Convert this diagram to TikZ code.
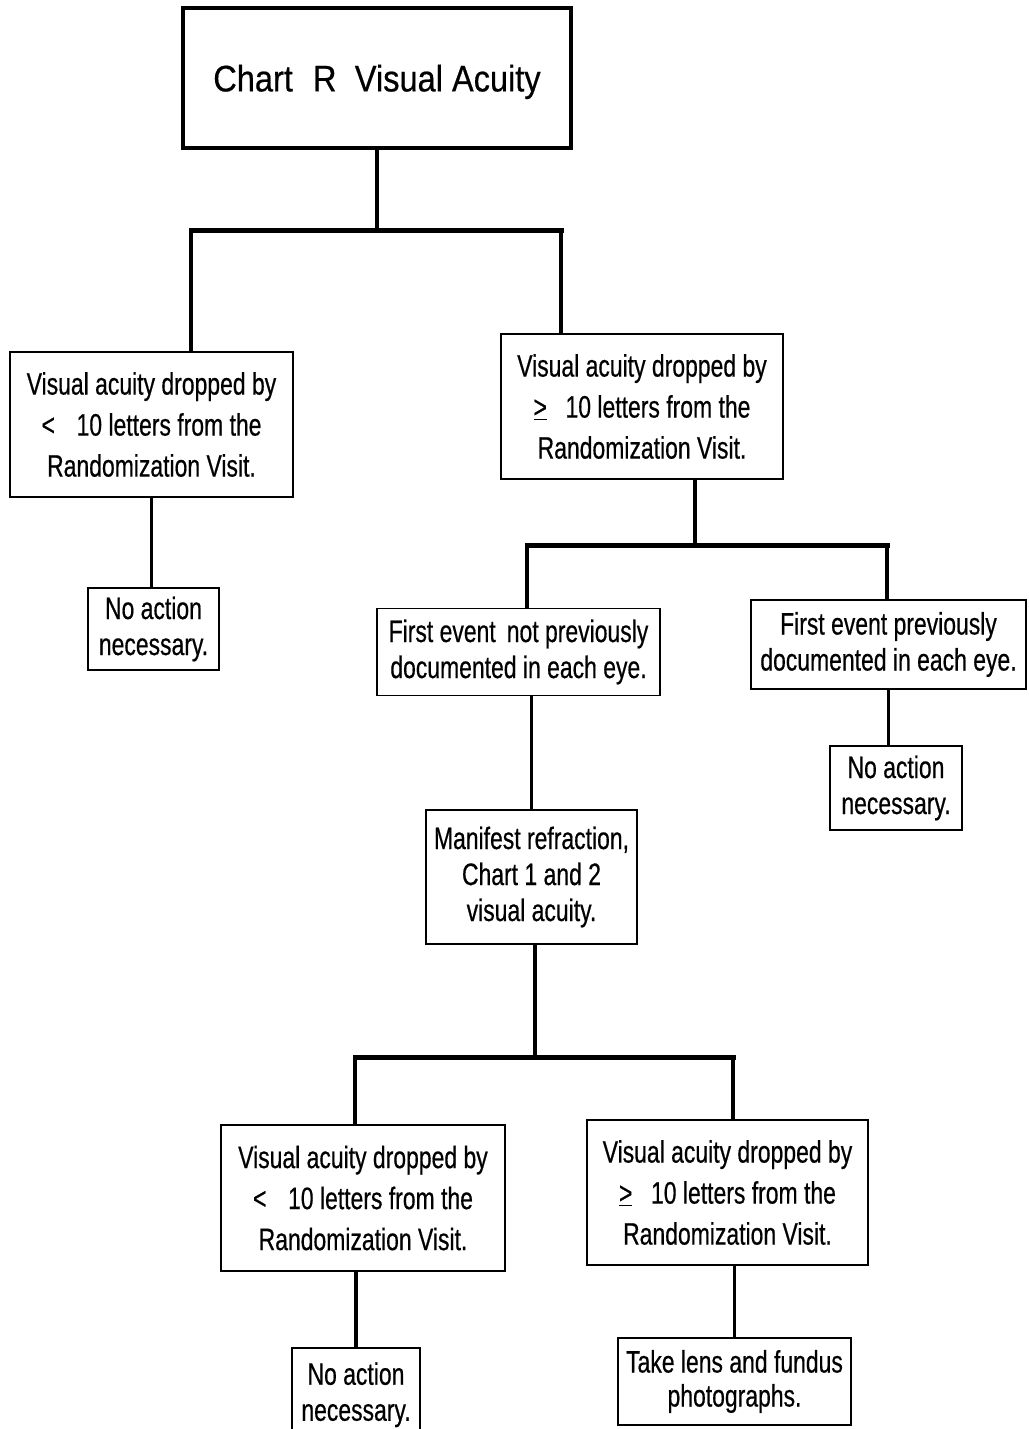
\documentclass[tikz,border=0pt]{standalone}
\usepackage{fontspec}
\setmainfont{Liberation Sans}[FakeStretch=0.74,FakeBold=0.5]
\newfontfamily\titlefont{Liberation Sans}[FakeStretch=0.88,FakeBold=0.5]

\begin{document}
\begin{tikzpicture}[x=1pt,y=-1pt,
  box/.style={draw, line width=1.7pt, inner sep=0pt, align=center,
              font=\fontsize{31}{41}\selectfont},
  smallbox/.style={box, font=\fontsize{31}{36}\selectfont},
  conn/.style={line width=3.6pt},
  bar/.style={line width=5pt, line cap=rect}]
\useasboundingbox (0,0) rectangle (1028,1429);

% boxes
\node[draw, line width=3.2pt, minimum width=388, minimum height=140, inner sep=0pt,
      text depth=0pt, font=\titlefont\fontsize{37}{44}\selectfont] (title) at (377,78)
      {Chart\hspace{0.3em} R\hspace{0.25em} Visual Acuity\hspace{24pt}};

\node[box, minimum width=283, minimum height=145] (L1) at (151.5,424.5)
  {Visual acuity dropped by\\ <\hspace{0.7em}10 letters from the\\ Randomization Visit.};
\node[box, minimum width=282, minimum height=145] (R1) at (642,406.5)
  {Visual acuity dropped by\\ \underline{>}\hspace{0.6em}10 letters from the\\ Randomization Visit.};
\node[smallbox, minimum width=131, minimum height=82] (NA1) at (153.5,629)
  {No action\\ necessary.};
\node[smallbox, minimum width=283, minimum height=87] (FE1) at (518.5,652)
  {First event\hspace{0.15em} not previously\\ documented in each eye.};
\node[smallbox, minimum width=275, minimum height=89] (FE2) at (888.5,644.5)
  {First event previously\hspace{0.9em}\\ documented in each eye.};
\node[smallbox, minimum width=132, minimum height=84] (NA2) at (896,788)
  {No action\\ necessary.};
\node[smallbox, minimum width=211, minimum height=134] (MR) at (531.5,877)
  {Manifest refraction,\\ Chart 1 and 2\\ visual acuity.};
\node[box, minimum width=284, minimum height=146] (L3) at (363,1198)
  {Visual acuity dropped by\\ <\hspace{0.7em}10 letters from the\\ Randomization Visit.};
\node[box, minimum width=281, minimum height=145] (R3) at (727.5,1192.5)
  {Visual acuity dropped by\\ \underline{>}\hspace{0.6em}10 letters from the\\ Randomization Visit.};
\node[smallbox, minimum width=128, minimum height=87, text depth=0pt] (NA3) at (356,1391.5)
  {No action\\ necessary.};
\node[smallbox, minimum width=233, minimum height=87,
      font=\fontsize{31}{34}\selectfont] (TK) at (734.5,1381.5)
  {Take lens and fundus\\ photographs.};

% junction points of the branch bars
\coordinate (b1l) at (191,230);
\coordinate (b1r) at (561,230);
\coordinate (b2)  at (695,545);
\coordinate (b2l) at (527,545);
\coordinate (b2r) at (887,545);
\coordinate (b3)  at (535,1057);
\coordinate (b3l) at (355,1057);
\coordinate (b3r) at (733,1057);

% connectors
\draw[conn] (title.south) -- (title.south |- b1l);
\draw[bar]  (b1l) -- (b1r);
\draw[conn] (b1l) -- (b1l |- L1.north);
\draw[conn] (b1r) -- (b1r |- R1.north);
\draw[conn] (L1.south) -- (L1.south |- NA1.north);

\draw[conn] (b2 |- R1.south) -- (b2);
\draw[bar]  (b2l) -- (b2r);
\draw[conn] (b2l) -- (b2l |- FE1.north);
\draw[conn] (b2r) -- (b2r |- FE2.north);
\draw[conn] (FE2.south) -- (FE2.south |- NA2.north);
\draw[conn] (MR.north |- FE1.south) -- (MR.north);

\draw[conn] (b3 |- MR.south) -- (b3);
\draw[bar]  (b3l) -- (b3r);
\draw[conn] (b3l) -- (b3l |- L3.north);
\draw[conn] (b3r) -- (b3r |- R3.north);
\draw[conn] (NA3.north |- L3.south) -- (NA3.north);
\draw[conn] (TK.north |- R3.south) -- (TK.north);
\end{tikzpicture}
\end{document}
